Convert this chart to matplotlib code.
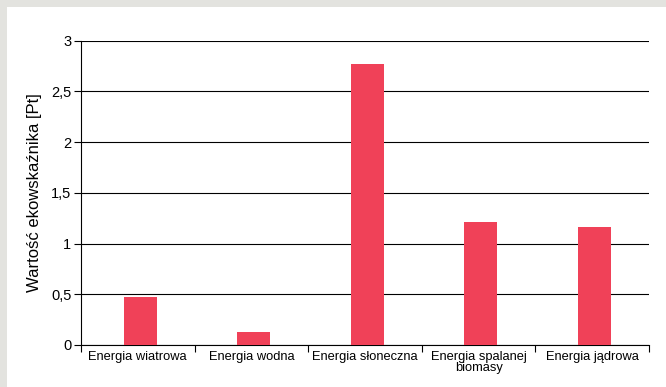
import matplotlib.pyplot as plt
from matplotlib.patches import Rectangle
from matplotlib.ticker import FuncFormatter, FixedLocator, NullFormatter

# Dane
kategorie = ['Energia wiatrowa', 'Energia wodna', 'Energia słoneczna',
             'Energia spalanej\nbiomasy', 'Energia jądrowa']
wartosci = [0.47, 0.13, 2.77, 1.21, 1.16]
y_ticks = [0, 0.5, 1, 1.5, 2, 2.5, 3]

plt.rcParams['font.family'] = ['Liberation Sans', 'DejaVu Sans']

W, H = 666, 387
fig = plt.figure(figsize=(W / 100, H / 100), dpi=100, facecolor='#e3e3df')
# białe tło panelu
fig.add_artist(Rectangle((7 / W, 0), 1, 1 - 7 / H, transform=fig.transFigure,
                         facecolor='white', edgecolor='none', zorder=-5))

ax = fig.add_axes([81 / W, 1 - 345 / H, (649 - 81) / W, (345 - 40.7) / H])
ax.set_facecolor('none')

x = range(len(kategorie))
ax.bar([i + 0.02 for i in x], wartosci, width=0.29, color='#f04158', zorder=3)

ax.set_xlim(-0.5, len(kategorie) - 0.5)
ax.set_ylim(0, 3)
ax.set_yticks(y_ticks)
ax.yaxis.set_major_formatter(FuncFormatter(lambda v, p: ('%g' % v).replace('.', ',')))
ax.grid(axis='y', color='black', linewidth=0.8, zorder=1)

# etykiety kategorii pośrodku, kreski na granicach
ax.set_xticks(list(x))
ax.set_xticklabels(kategorie, fontsize=9.3, linespacing=0.95)
ax.tick_params(axis='x', length=0, pad=4)
ax.xaxis.set_minor_locator(FixedLocator([i - 0.5 for i in range(len(kategorie) + 1)]))
ax.xaxis.set_minor_formatter(NullFormatter())
ax.tick_params(axis='x', which='minor', length=5, width=0.8, color='black')
ax.tick_params(axis='y', length=5, width=0.8, labelsize=10.5, pad=2)

for s in ['top', 'right']:
    ax.spines[s].set_visible(False)
ax.spines['left'].set_linewidth(0.8)
ax.spines['bottom'].set_linewidth(0.8)

ax.set_ylabel('Wartość ekowskaźnika [Pt]', fontsize=12, va='center')
ax.yaxis.set_label_coords(-0.081, 0.5)

fig.savefig('out.png', dpi=100, facecolor=fig.get_facecolor())
